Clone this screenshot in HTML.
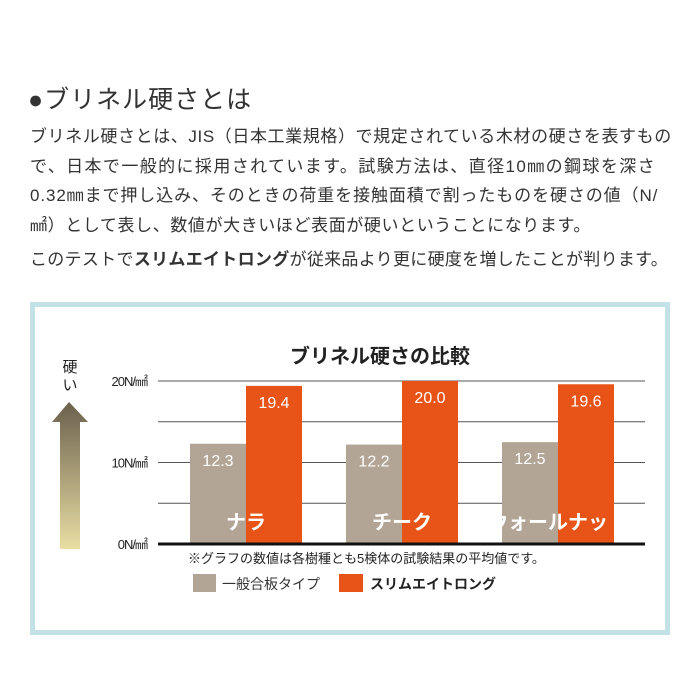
<!DOCTYPE html>
<html><head><meta charset="utf-8"><style>
body{margin:0;width:700px;height:700px;background:#fff;overflow:hidden;font-family:"Liberation Sans","Noto Sans CJK JP",sans-serif;color:#333;position:relative}
.h{position:absolute;left:28px;top:80px;font-size:25px;color:#333;letter-spacing:1px}
.p{position:absolute;left:30px;font-size:17px;white-space:nowrap;letter-spacing:0.6px}
.frame{position:absolute;left:30px;top:302px;width:630px;height:323px;border:5px solid #c3e2e7}
</style></head><body>
<div class="h">●ブリネル硬さとは</div>
<div class="p" style="top:122px">ブリネル硬さとは、JIS（日本工業規格）で規定されている木材の硬さを表すもの</div>
<div class="p" style="top:152px;letter-spacing:1.4px">で、日本で一般的に採用されています。試験方法は、直径10㎜の鋼球を深さ</div>
<div class="p" style="top:181px;letter-spacing:0.9px">0.32㎜まで押し込み、そのときの荷重を接触面積で割ったものを硬さの値（N/</div>
<div class="p" style="top:211px">㎟）として表し、数値が大きいほど表面が硬いということになります。</div>
<div class="p" style="top:245px;letter-spacing:0.3px">このテストで<b>スリムエイトロング</b>が従来品より更に硬度を増したことが判ります。</div>
<div class="frame"></div>
<svg id="chart" width="700" height="700" style="position:absolute;left:0;top:0">
<defs><linearGradient id="ag" x1="0" y1="0" x2="0" y2="1"><stop offset="0" stop-color="#6b604c"/><stop offset="1" stop-color="#e9dea4"/></linearGradient></defs>
</svg>
<script>
const categories=["ナラ","チーク","ウォールナット"];
const plywood=[12.3,12.2,12.5];
const slim=[19.4,20.0,19.6];
const yTicks=[0,10,20];
const yTickLabels=["0N/㎟","10N/㎟","20N/㎟"];
const grid=[5,15];
const NS="http://www.w3.org/2000/svg";
const svg=document.getElementById('chart');
const y=v=>544-v*8.15;
const gx=i=>190+i*156;
const BW=56;
function mk(t,a,txt){const e=document.createElementNS(NS,t);for(const k in a)e.setAttribute(k,a[k]);if(txt!=null)e.textContent=txt;svg.appendChild(e);return e;}
const F='"Liberation Sans","Noto Sans CJK JP",sans-serif';
let t=mk('text',{x:380,y:363,'text-anchor':'middle','font-size':20,'font-weight':'bold',fill:'#222','font-family':F},'ブリネル硬さの比較');


grid.concat(yTicks.slice(1)).forEach(v=>{const l=mk('line',{x1:158,x2:645,y1:y(v),y2:y(v),stroke:'#555','stroke-width':1});

});
yTicks.forEach((v,i)=>{const e=mk('text',{x:147,y:y(v)+5,'text-anchor':'end','font-size':13,fill:'#222','font-family':F,'letter-spacing':'-1'},yTickLabels[i]);

});
categories.forEach((c,i)=>{
const x=gx(i);
let r=mk('rect',{x:x,y:y(plywood[i]),width:BW,height:544-y(plywood[i]),fill:'#b3a595'});


r=mk('rect',{x:x+BW,y:y(slim[i]),width:BW,height:544-y(slim[i]),fill:'#e85418'});


let e=mk('text',{x:x+BW/2,y:y(plywood[i])+22,'text-anchor':'middle','font-size':16,fill:'#fff','font-family':F},plywood[i].toFixed(1));


e=mk('text',{x:x+BW*1.5,y:y(slim[i])+22,'text-anchor':'middle','font-size':16,fill:'#fff','font-family':F},slim[i].toFixed(1));


e=mk('text',{x:x+BW,y:529,'text-anchor':'middle','font-size':20,'font-weight':'bold',fill:'#fff','font-family':F},c);


});
let b=mk('line',{x1:158,x2:645,y1:544,y2:544,stroke:'#111','stroke-width':3});


let a=mk('path',{d:'M69 402 L88 422 L80 422 L80 549 L60 549 L60 422 L52 422 Z',fill:'url(#ag)'});


a=mk('text',{x:70,y:372,'text-anchor':'middle','font-size':15,fill:'#222','font-family':F},'硬');


a=mk('text',{x:70,y:390,'text-anchor':'middle','font-size':15,fill:'#222','font-family':F},'い');


a=mk('text',{x:188,y:563,'font-size':13,fill:'#222','font-family':F},'※グラフの数値は各樹種とも5検体の試験結果の平均値です。');


a=mk('rect',{x:193,y:574,width:23,height:18,fill:'#b3a595'});


a=mk('text',{x:222,y:589,'font-size':14,fill:'#333','font-family':F},'一般合板タイプ');


a=mk('rect',{x:339,y:574,width:24,height:18,fill:'#e85418'});


a=mk('text',{x:370,y:589,'font-size':14,'font-weight':'bold',fill:'#222','font-family':F},'スリムエイトロング');


</script>
</body></html>
